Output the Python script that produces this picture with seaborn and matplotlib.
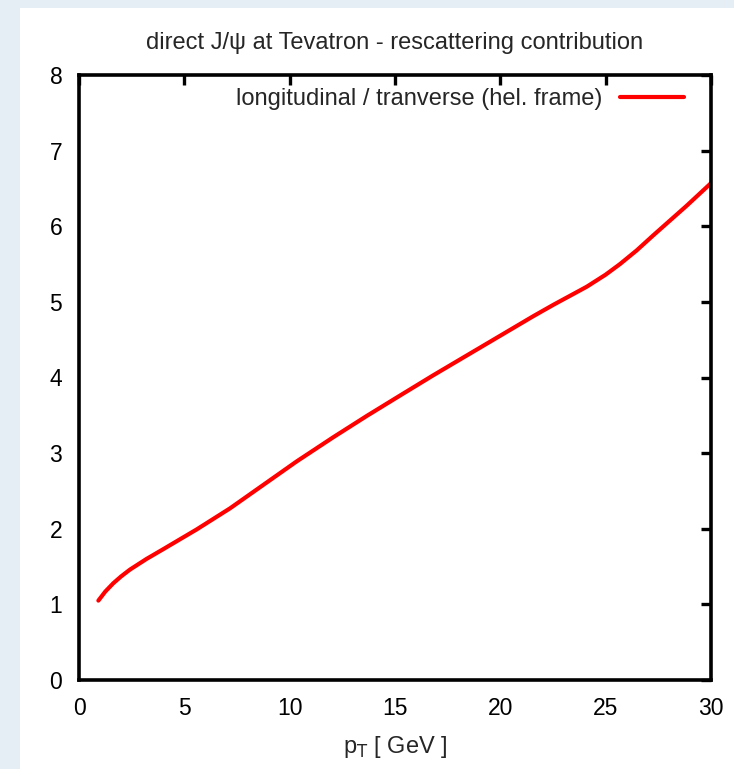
import numpy as np
import pandas as pd
import matplotlib.pyplot as plt
import matplotlib.patches as mpatches
import seaborn as sns

# curve (pT in GeV, long/trans ratio)
pt = [0.92, 1.25, 1.63, 2.0, 2.42, 3.2, 4.0, 5.58, 7.17, 8.75, 10.33, 12.07, 13.65,
      15.23, 16.82, 18.4, 19.98, 21.56, 22.51, 24.1, 25.0, 25.68, 26.47, 27.26,
      28.84, 30.0]
ratio = [1.05, 1.17, 1.28, 1.37, 1.46, 1.60, 1.73, 1.99, 2.27, 2.58, 2.89, 3.21, 3.49,
         3.76, 4.03, 4.29, 4.55, 4.81, 4.96, 5.20, 5.36, 5.50, 5.68, 5.88,
         6.27, 6.57]
xticks = [0, 5, 10, 15, 20, 25, 30]
yticks = [0, 1, 2, 3, 4, 5, 6, 7, 8]

data = pd.DataFrame({'pt': pt, 'ratio': ratio})

sns.set_style('white')
plt.rcParams['font.family'] = ['Liberation Sans', 'DejaVu Sans']

fig = plt.figure(figsize=(7.34, 7.69), dpi=100)
fig.patch.set_facecolor('#e4eef4')
# white slide area
fig.add_artist(mpatches.Rectangle((20 / 734, 0), 1, 1 - 8 / 769, transform=fig.transFigure,
                                  facecolor='white', edgecolor='none', zorder=0))

ax = fig.add_axes([79 / 734, 1 - 680 / 769, (711 - 79) / 734, (680 - 75) / 769])
ax.set_facecolor('white')

sns.lineplot(data=data, x='pt', y='ratio', ax=ax, color='#ff0000', linewidth=3.0,
             label='longitudinal / tranverse (hel. frame)')
ax.lines[0].set_solid_joinstyle('round')

ax.set_xlim(0, 30)
ax.set_ylim(0, 8)
ax.set_xticks(xticks)
ax.set_yticks(yticks)
ax.tick_params(direction='in', length=7.2, width=2.4, top=True, right=True,
               labelsize=16.5, pad=12, colors='black')
for s in ax.spines.values():
    s.set_linewidth(2.6)
    s.set_color('black')
    s.set_visible(True)

ax.set_xlabel('p$_\\mathrm{T}$ [ GeV ]', fontsize=17, labelpad=10)
ax.set_ylabel('')
ax.set_title('direct J/ψ at Tevatron - rescattering contribution', fontsize=17, pad=19)

leg = ax.legend(loc='upper right', bbox_to_anchor=(1 - 8 / 632, 1 + 6 / 605),
                frameon=False, markerfirst=False, fontsize=17,
                handlelength=2.7, borderaxespad=0.4, handletextpad=0.75)

fig.savefig('out.png', dpi=100)
